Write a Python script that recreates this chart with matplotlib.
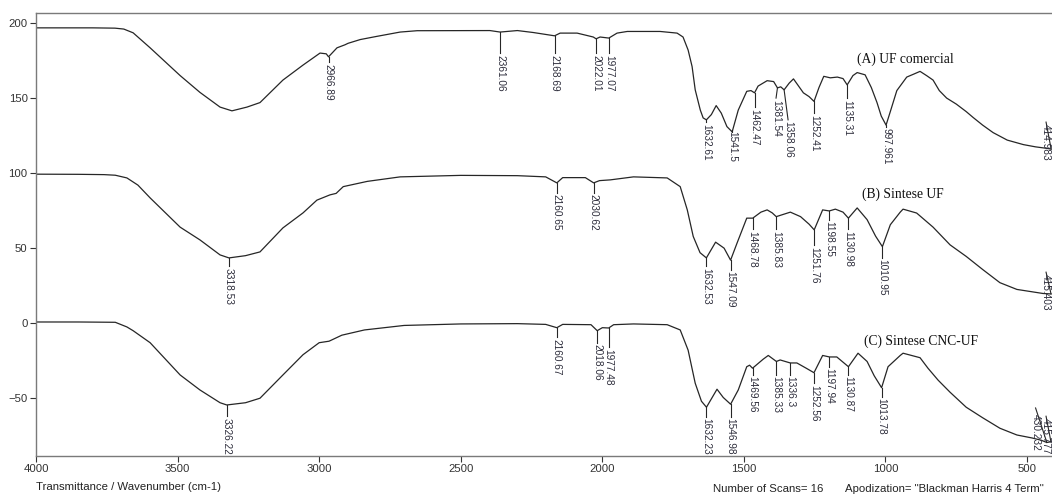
import numpy as np
import matplotlib.pyplot as plt

plt.rcParams['font.family'] = ['Liberation Sans', 'DejaVu Sans']

# spectrum (A) UF comercial
a_wn = [4000, 3800, 3721, 3690, 3657, 3597, 3491, 3421, 3350, 3308, 3255, 3209, 3128, 3057,
        2997, 2975, 2966.89, 2937, 2909, 2898, 2855, 2800, 2714, 2654, 2397, 2361.06, 2300,
        2244, 2168.69, 2149, 2089, 2032, 2022.01, 2008, 1977.07, 1948, 1912, 1796, 1736,
        1715, 1697, 1683, 1672, 1654, 1644, 1632.61, 1615, 1598, 1580, 1560, 1541.5, 1520,
        1490, 1475, 1462.47, 1450, 1418, 1395, 1381.54, 1370, 1358.06, 1340, 1325, 1290,
        1270, 1252.41, 1235, 1218, 1195, 1170, 1150, 1135.31, 1115, 1100, 1072, 1050, 1030,
        1015, 997.961, 983, 960, 925, 900, 878, 855, 832, 810, 784, 750, 715, 690, 657, 620,
        570, 513, 470, 430, 414.983]
a_t = [196.8, 196.8, 196.6, 196.0, 193.5, 183.5, 165.0, 153.8, 144.0, 141.5, 144.0, 147.0,
       162.0, 172.0, 180.0, 179.5, 177.5, 183.5, 185.5, 186.5, 189.0, 191.0, 194.0, 194.9,
       195.0, 194.0, 195.0, 193.7, 191.5, 193.3, 193.3, 190.7, 189.5, 190.7, 190.0, 193.3,
       194.4, 194.4, 193.3, 190.7, 182.0, 171.0, 155.5, 142.0, 136.8, 135.5, 139.0, 145.0,
       140.0, 131.0, 127.5, 142.0, 154.5, 155.0, 153.5, 158.0, 161.6, 161.0, 156.8, 157.5,
       155.5, 160.0, 162.8, 153.5, 151.0, 147.8, 157.0, 164.5, 163.5, 164.0, 163.0, 158.8,
       165.0, 167.0, 165.5, 157.0, 147.0, 138.0, 132.0, 141.0, 155.0, 164.0, 166.0, 167.8,
       165.0, 162.0, 155.0, 150.0, 146.0, 141.0, 137.0, 132.0, 127.0, 122.0, 119.0, 117.5,
       116.5, 116.0]

# spectrum (B) Sintese UF
b_wn = [4000, 3850, 3760, 3720, 3679, 3640, 3597, 3491, 3421, 3350, 3318.53, 3260, 3209,
        3128, 3057, 3008, 2962, 2940, 2915, 2830, 2714, 2500, 2300, 2200, 2160.65, 2140,
        2060, 2030.62, 2010, 1972, 1890, 1771, 1725, 1700, 1679, 1655, 1632.53, 1600, 1570,
        1547.09, 1524, 1490, 1468.78, 1440, 1418, 1400, 1385.83, 1336, 1300, 1270, 1251.76,
        1222, 1198.55, 1177, 1150, 1130.98, 1100, 1065, 1035, 1010.95, 983, 948, 938, 890,
        832, 772, 715, 657, 596, 536, 444, 415.403]
b_t = [99.3, 99.2, 99.0, 98.6, 96.8, 92.0, 83.5, 64.0, 55.5, 45.5, 43.5, 45.0, 47.5, 63.5,
       73.5, 82.0, 85.5, 86.5, 91.0, 94.5, 97.5, 98.5, 98.3, 97.5, 93.5, 97.0, 97.0, 93.5,
       95.0, 95.5, 97.5, 96.8, 91.0, 75.5, 57.8, 47.0, 43.5, 54.0, 50.0, 42.0, 53.5, 70.0,
       70.0, 74.0, 75.5, 73.5, 71.0, 74.0, 71.0, 66.0, 62.2, 75.5, 74.8, 76.0, 74.0, 70.0,
       76.8, 69.0, 58.0, 51.0, 65.6, 74.0, 76.0, 73.4, 64.0, 52.2, 44.5, 35.8, 27.0, 22.5,
       19.8, 19.5]

# spectrum (C) Sintese CNC-UF
c_wn = [4000, 3850, 3720, 3679, 3657, 3597, 3491, 3421, 3350, 3326.22, 3260, 3209, 3128,
        3057, 3000, 2965, 2920, 2840, 2700, 2500, 2300, 2200, 2160.67, 2140, 2040, 2018.06,
        2000, 1977.48, 1960, 1890, 1771, 1725, 1697, 1672, 1650, 1632.23, 1595, 1573,
        1546.98, 1530, 1520, 1490, 1480, 1469.56, 1432, 1414, 1385.33, 1372, 1336.3, 1313,
        1280, 1252.56, 1222, 1197.94, 1172, 1130.87, 1097, 1065, 1040, 1013.78, 991, 948,
        938, 878, 850, 814, 772, 715, 657, 596, 536, 482, 450, 430.232, 415.777]
c_t = [0.8, 0.8, 0.6, -2.5, -5.0, -13.0, -34.5, -44.5, -53.0, -54.5, -53.0, -50.0, -34.5,
       -21.0, -13.0, -12.0, -8.0, -4.5, -1.5, -0.5, -0.3, -0.8, -3.0, -0.8, -1.0, -5.0,
       -3.0, -3.2, -1.0, -0.5, -1.0, -4.5, -18.0, -40.0, -52.0, -56.0, -44.0, -49.5, -54.0,
       -48.0, -44.5, -29.0, -28.0, -30.0, -24.0, -21.5, -25.5, -24.5, -26.5, -26.5, -30.0,
       -33.0, -21.5, -22.5, -22.5, -29.0, -20.0, -25.5, -35.0, -43.0, -29.0, -21.5, -20.0,
       -23.0, -30.0, -38.0, -46.0, -56.0, -63.0, -70.0, -74.5, -76.5, -78.0, -79.5, -79.0]

# peak labels
a_peaks = ["2966.89", "2361.06", "2168.69", "2022.01", "1977.07", "1632.61", "1541.5",
           "1462.47", "1381.54", "1358.06", "1252.41", "1135.31", "997.961", "414.983"]
b_peaks = ["3318.53", "2160.65", "2030.62", "1632.53", "1547.09", "1468.78", "1385.83",
           "1251.76", "1198.55", "1130.98", "1010.95", "415.403"]
c_peaks = ["3326.22", "2160.67", "2018.06", "1977.48", "1632.23", "1546.98", "1469.56",
           "1385.33", "1336.3", "1252.56", "1197.94", "1130.87", "1013.78", "430.232",
           "415.777"]

# where each label text starts (layout)
a_top = [174, 180, 180, 180, 180, 134, 129, 144, 150, 135.5, 140, 150, 131, 134]
b_top = [38, 87, 87, 38, 35.5, 62.5, 62.5, 52, 69, 62.5, 43.5, 34]
c_top = [-62, -9.5, -13, -16, -62.5, -62.5, -34.5, -34.5, -34.5, -40, -29, -34.5, -49,
         -59.5, -62]
# sideways shift of crowded label texts, in wavenumber units
nudge = {"1381.54": 5, "1358.06": -14, "430.232": 37}

series_names = ["(A) UF comercial", "(B) Sintese UF", "(C) Sintese CNC-UF"]
name_pos = [(176, 1100), (86, 1082), (-12, 1075)]

W, H = 1052, 495
fig = plt.figure(figsize=(W / 100, H / 100), dpi=100)
ax = fig.add_axes([36 / W, 39 / H, 1 - 36 / W, (456 - 13) / H])

line_col = '#262626'
txt_col = '#2e2e3c'

for wn, t in [(a_wn, a_t), (b_wn, b_t), (c_wn, c_t)]:
    ax.plot(wn, t, color=line_col, lw=0.9)

for wn, t, peaks, tops in [(a_wn, a_t, a_peaks, a_top), (b_wn, b_t, b_peaks, b_top),
                           (c_wn, c_t, c_peaks, c_top)]:
    for s, top in zip(peaks, tops):
        p = float(s)
        y0 = np.interp(p, wn[::-1], t[::-1])
        tx = max(p, 433) + nudge.get(s, 0)
        if s == "430.232":
            ax.plot([tx, p], [top + 3, y0], color=line_col, lw=0.8)
        else:
            ax.plot([p, tx], [y0, top], color=line_col, lw=0.8)
        ax.text(tx, top - 1, s, rotation=-90, ha='center', va='top',
                fontsize=7.3, color=txt_col, clip_on=False)

for name, (y, x) in zip(series_names, name_pos):
    ax.text(x, y, name, fontsize=9.8, family='Liberation Serif', color='#111111',
            ha='left', va='center')

ax.set_xlim(4000, 412)
ax.set_ylim(-88.5, 206.7)
ax.set_xticks([4000, 3500, 3000, 2500, 2000, 1500, 1000, 500])
ax.set_yticks([-50, 0, 50, 100, 150, 200])
ax.tick_params(direction='out', length=4, width=0.8, colors='#333333', labelsize=8.2, pad=2)
for side in ['left', 'bottom', 'top']:
    ax.spines[side].set_color('#7a7a7a')
    ax.spines[side].set_linewidth(1.0)
ax.spines['right'].set_visible(False)

fig.text(36 / W, 1 - 487 / H, "Transmittance / Wavenumber (cm-1)", fontsize=8.2,
         color='#222222', va='center', ha='left')
fig.text(713 / W, 1 - 489 / H, "Number of Scans= 16", fontsize=8.2,
         color='#222222', va='center', ha='left')
fig.text(845 / W, 1 - 489 / H, 'Apodization= "Blackman Harris 4 Term"', fontsize=8.2,
         color='#222222', va='center', ha='left')

fig.savefig('out.png', dpi=100)
